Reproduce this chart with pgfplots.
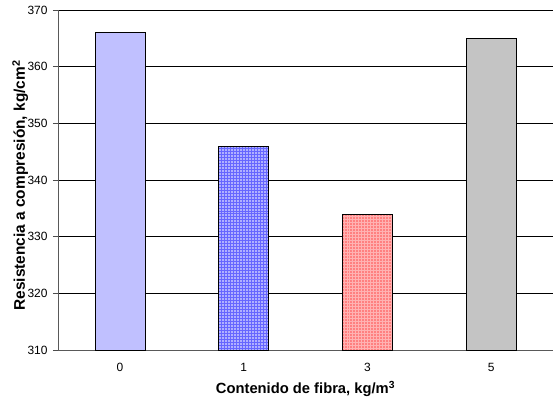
\documentclass[border=0pt]{standalone}
\usepackage{pgfplots}
\pgfplotsset{compat=1.18}
\usetikzlibrary{patterns}
\usepackage{fontspec}
\setmainfont{Liberation Sans}
\definecolor{barA}{HTML}{C0C0FF}
\definecolor{barB}{HTML}{B0B0FF}
\definecolor{barC}{HTML}{FF8080}
\definecolor{barD}{HTML}{C4C4C4}
\begin{document}
\begin{tikzpicture}
\path[use as bounding box] (-58bp,-49bp) rectangle (495bp,350bp);
\begin{axis}[
  scale only axis,
  width=495bp, height=340bp,
  xmin=-0.5, xmax=3.5,
  ymin=310, ymax=370,
  ytick={310,320,...,370},
  xtick={0,1,2,3},
  xticklabels={0,1,3,5},
  extra x ticks={0.5,1.5,2.5},
  extra x tick labels={},
  extra x tick style={major tick length=5bp, tick style={black!70, line width=0.6pt}, grid=none},
  axis lines=left,
  axis line style={-, black!65, line width=0.8pt},
  ymajorgrids,
  grid style={black, line width=0.5pt},
  tick align=outside,
  major tick length=5bp,
  xtick style={draw=none},
  ytick style={black!70, line width=0.6pt},
  /pgf/number format/assume math mode=true,
  every tick label/.append style={font=\fontsize{12}{14}\selectfont},
  yticklabel style={xshift=-2bp},
  xticklabel style={yshift=-5bp},
  xlabel={\textbf{Contenido de fibra, kg/m\textsuperscript{3}}},
  ylabel={\textbf{Resistencia a compresión, kg/cm\textsuperscript{2}}},
  xlabel style={font=\fontsize{14.8}{16}\selectfont, at={(axis description cs:0.5,-0.1294)}, anchor=base},
  ylabel style={font=\fontsize{15.5}{17}\selectfont, at={(axis description cs:-0.0667,0.484)}, anchor=base, rotate=0},
  ybar, bar width=50bp,
]
\addplot[draw=black, line width=0.6pt, fill=barA, bar shift=0pt] coordinates {(0,366)};
\addplot[draw=black, line width=0.6pt, fill=barB, bar shift=0pt, postaction={pattern=grid, pattern color=blue!60}] coordinates {(1,346)};
\addplot[draw=black, line width=0.6pt, fill=barC, bar shift=0pt, postaction={pattern=grid, pattern color=red!30}] coordinates {(2,334)};
\addplot[draw=black, line width=0.6pt, fill=barD, bar shift=0pt] coordinates {(3,365)};
\end{axis}
\end{tikzpicture}
\end{document}
